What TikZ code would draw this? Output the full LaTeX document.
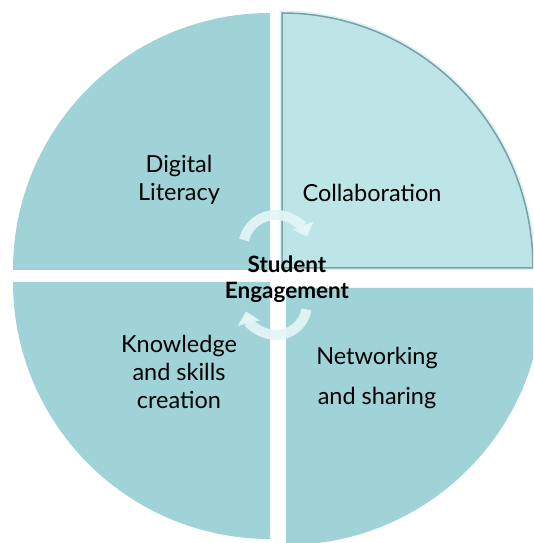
\documentclass[tikz,border=0pt]{standalone}
\usepackage{fontspec}
\setmainfont{Lato}
\usetikzlibrary{arrows.meta}
\definecolor{quad}{RGB}{160,211,216}
\definecolor{quadlight}{RGB}{189,228,230}
\definecolor{quadline}{RGB}{122,160,164}
\definecolor{quadglow}{RGB}{220,243,245}
\definecolor{cyclearrow}{RGB}{228,245,247}

\begin{document}
\begin{tikzpicture}[x=1pt,y=1pt]
\tikzstyle{every node}=[align=center, inner sep=0pt, text=black]
\tikzstyle{quadtext}=[font=\fontsize{23.5}{28}\selectfont]
\tikzstyle{widetext}=[font=\fontsize{23.5}{40}\selectfont]
\tikzstyle{hubtext}=[font=\fontsize{22.5}{26}\selectfont\bfseries]
\tikzstyle{cyclearc}=[line width=10pt, draw=cyclearrow, draw opacity=.92, -{Triangle[width=22pt,length=12pt]}]
\useasboundingbox (0,0) rectangle (533,543);
\clip (0,0) rectangle (533,543);
\fill[quad] (270,273) -- (270,530) arc[start angle=90,end angle=180,radius=257] -- cycle;
\fill[quad] (270,261) -- (13,261) arc[start angle=180,end angle=270,radius=257] -- cycle;
\fill[quad] (286,255) -- (286,-2) arc[start angle=270,end angle=360,radius=257] -- cycle;
\draw[quadglow, line width=5pt] (282,275) -- (282,530) arc[start angle=90,end angle=0,x radius=251,y radius=255] -- cycle;
\draw[quadline, line width=1.5pt, fill=quadlight] (282,275) -- (282,530) arc[start angle=90,end angle=0,x radius=251,y radius=255] -- cycle;
\draw (179,363) node (digital) [quadtext] {Digital\\Literacy};
\draw (372,350) node (collab) [quadtext] {Collaboration};
\draw (179,171) node (knowledge) [quadtext] {Knowledge\\and skills\\creation};
\draw (377,165) node (network) [widetext] {Networking\\and sharing};
\draw[cyclearc] (276,295) ++(166:33) arc[start angle=166,end angle=20,radius=33];
\draw[cyclearc] (276,239) ++(-10:31) arc[start angle=-10,end angle=-166,radius=31];
\draw (287,264) node (engage) [hubtext] {Student\\Engagement};
\end{tikzpicture}
\end{document}
